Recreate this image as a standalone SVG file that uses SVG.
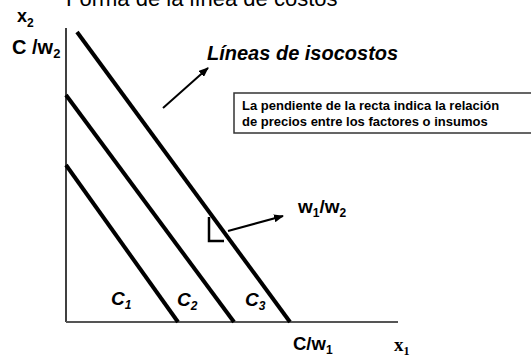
<svg xmlns="http://www.w3.org/2000/svg" width="531" height="358" viewBox="0 0 531 358">
  <defs>
    <marker id="ah" markerWidth="10" markerHeight="8" refX="9" refY="4" orient="auto" markerUnits="userSpaceOnUse">
      <path d="M0,0 L10,4 L0,8 Z" fill="#000"/>
    </marker>
  </defs>
  <style>
    .sans { font-family: "Liberation Sans", Arial, sans-serif; fill: #000; }
    .serif { font-family: "Liberation Serif", "Times New Roman", serif; fill: #000; }
    .b { font-weight: bold; }
    .i { font-style: italic; }
    .iso { stroke: #000; stroke-width: 4; fill: none; }
    .arrow { stroke: #000; stroke-width: 2; fill: none; marker-end: url(#ah); }
  </style>
  <rect width="531" height="358" fill="#fff"/>

  <text id="title" class="sans" x="66" y="6" font-size="22">Forma de la línea de costos</text>

  <g id="axes">
    <line x1="66" y1="28" x2="66" y2="322" stroke="#000" stroke-width="1.5"/>
    <line x1="66" y1="322" x2="398" y2="322" stroke="#555" stroke-width="2"/>
  </g>

  <g id="isocost-lines">
    <line id="c1" class="iso" x1="66" y1="165" x2="178" y2="322"/>
    <line id="c2" class="iso" x1="66" y1="95" x2="234" y2="322"/>
    <line id="c3" class="iso" x1="77" y1="32" x2="290" y2="322"/>
  </g>

  <g id="connectors">
    <line class="arrow" x1="163" y1="108" x2="208" y2="68"/>
    <line class="arrow" x1="228" y1="231" x2="283" y2="216"/>
    <polyline points="209,217 209,241 224,241" stroke="#000" stroke-width="2.5" fill="none"/>
  </g>

  <g id="axis-labels">
    <text class="sans b" x="17" y="22" font-size="18">x<tspan font-size="12" dy="5">2</tspan></text>
    <text class="sans b" x="12" y="54" font-size="20">C /w<tspan font-size="13" dy="4">2</tspan></text>
    <text class="sans b" x="293" y="350" font-size="18.5">C/w<tspan font-size="12" dy="4">1</tspan></text>
    <text class="serif b" x="394" y="351" font-size="19">x<tspan font-size="12" dy="4">1</tspan></text>
  </g>

  <g id="legend">
    <text class="sans b i" x="207" y="60" font-size="20">Líneas de isocostos</text>
  </g>

  <g id="note-box">
    <rect x="234" y="93" width="300" height="40" fill="#fff" stroke="#333" stroke-width="1.5"/>
    <text class="sans b" x="242" y="110" font-size="13">La pendiente de la recta indica la relación</text>
    <text class="sans b" x="242" y="126" font-size="13">de precios entre los factores o insumos</text>
  </g>

  <g id="slope-label">
    <text class="sans b" x="298" y="213" font-size="19">w<tspan font-size="12" dy="4">1</tspan><tspan dy="-4">/w</tspan><tspan font-size="12" dy="4">2</tspan></text>
  </g>

  <g id="cost-labels">
    <text class="sans b i" x="111" y="305" font-size="19">C<tspan font-size="12" dy="4">1</tspan></text>
    <text class="sans b i" x="177" y="306" font-size="19">C<tspan font-size="12" dy="4">2</tspan></text>
    <text class="sans b i" x="245" y="306" font-size="19">C<tspan font-size="12" dy="4">3</tspan></text>
  </g>
</svg>
